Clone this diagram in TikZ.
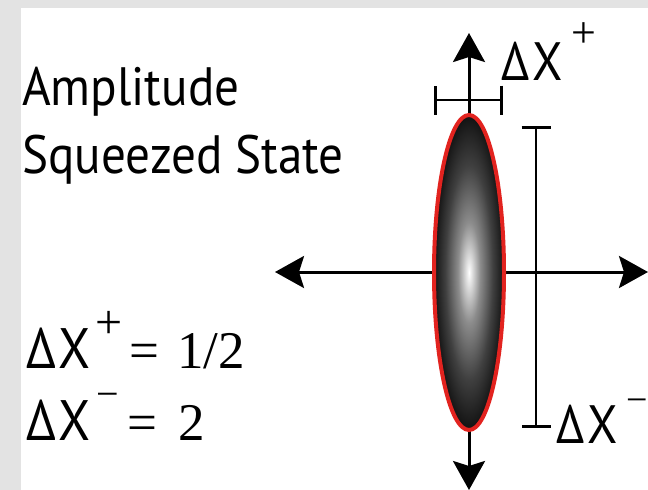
\documentclass[tikz,border=0pt]{standalone}
\usepackage{fontspec}
\setmainfont{Liberation Serif}
\newfontfamily\labelsans[FakeStretch=0.91]{PT Sans}
\usetikzlibrary{arrows.meta, shapes.geometric, positioning}

\definecolor{framegray}{HTML}{E3E3E3}
\definecolor{rimred}{HTML}{E2231F}

% radial grey ball for the squeezed state
\pgfdeclareradialshading{squeezeball}{\pgfpoint{0bp}{0bp}}{%
  color(0bp)=(white); color(8bp)=(black!45); color(17bp)=(black!75);
  color(25bp)=(black!93); color(50bp)=(black)}

\newcommand{\supmark}[3]{\raisebox{#1}{\rmfamily\fontsize{#2}{#2}\selectfont #3}}

\begin{document}
\begin{tikzpicture}[x=1pt, y=-1pt,
    axis/.style={line width=3pt, {Stealth[length=29pt, width=32pt, inset=5pt]}-{Stealth[length=29pt, width=32pt, inset=5pt]}},
    errbar/.style={line width=2.6pt, {Bar[width=29pt]}-{Bar[width=29pt]}},
    title/.style={font=\labelsans\fontsize{54}{60}\selectfont, inner sep=0pt, anchor=base west},
    qlabel/.style={font=\labelsans\fontsize{54}{60}\selectfont, inner sep=0pt, anchor=base west},
    eqn/.style={font=\fontsize{53}{64}\selectfont, inner sep=0pt, anchor=base west}
]
\useasboundingbox (0,0) rectangle (648,490);
\fill[framegray] (0,0) rectangle (648,490);
\fill[white] (21,8) rectangle (648,490);

% axes
\coordinate (xleft) at (275,272);
\coordinate (xright) at (648,272);
\coordinate (ptop) at (469,33);
\coordinate (pbottom) at (469,490);
\draw[axis] (xleft) -- (xright);
\draw[axis] (ptop) -- (pbottom);

% the squeezed state
\node[ellipse, shade, shading=squeezeball, draw=rimred, line width=4pt,
      minimum width=70pt, minimum height=315pt, inner sep=0pt] (state) at (469,272.5) {};

% uncertainty bars
\coordinate (dpl) at (434,100);
\coordinate (dpr) at (503,100);
\coordinate (dmt) at (536,126);
\coordinate (dmb) at (536,428);
\draw[errbar] (dpl) -- (dpr);
\draw[errbar] (dmt) -- (dmb);

\node[qlabel] (dxplus) at (501,80) {\makebox[70pt][l]{Δ\kern3ptX}\supmark{32.5pt}{44}{+}};
\node[qlabel] (dxminus) at (556,443) {\makebox[70pt][l]{Δ\kern3ptX}\supmark{30.5pt}{38}{−}};

% text
\node[title] (ampl) at (22,105) {Amplitude};
\node[title] (sqz) at (ampl.base west) [yshift=-68pt, anchor=base west] {Squeezed State};

\node[eqn] (eqplus) at (26,368) {\makebox[69pt][l]{\labelsans\fontsize{57}{60}\selectfont Δ\kern3ptX}\makebox[34pt][l]{\supmark{30pt}{48}{+}}\makebox[48pt][l]{=}1/2};
\node[eqn] (eqminus) at (26,440) {\makebox[70pt][l]{\labelsans\fontsize{57}{60}\selectfont Δ\kern3ptX}\makebox[31pt][l]{\supmark{33pt}{40}{−}}\makebox[51pt][l]{=}2};
\end{tikzpicture}
\end{document}
